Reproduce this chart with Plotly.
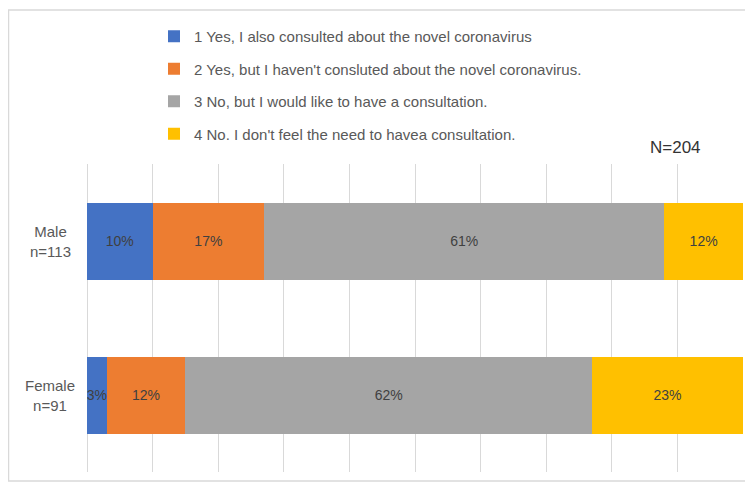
import plotly.graph_objects as go

categories = ["Male<br>n=113", "Female<br>n=91"]
series_names = [
    "1 Yes, I also consulted about the novel coronavirus",
    "2 Yes, but I haven't consluted about the novel coronavirus.",
    "3 No, but I would like to have a consultation.",
    "4 No. I don't feel the need to havea consultation.",
]
s1 = [10, 3]
s2 = [17, 12]
s3 = [61, 62]
s4 = [12, 23]
colors = ["#4472C4", "#ED7D31", "#A5A5A5", "#FFC000"]

# page has an 8px body margin; work in figure pixel coordinates (page - 8)
W, H = 745, 477
L, R, T, B = 79, 10, 156, 13
pw, ph = W - L - R, H - T - B

def px_x(p):
    return (p - L) / pw

def px_y(p):
    return (H - B - p) / ph

fig = go.Figure()
for i, (name, vals) in enumerate(zip(series_names, [s1, s2, s3, s4])):
    fig.add_trace(go.Bar(
        y=categories, x=vals, name=name, orientation="h",
        marker=dict(color=colors[i], line=dict(width=0)),
        text=[f"{v}%" for v in vals], textposition="inside", textangle=0,
        insidetextanchor="middle", constraintext="none",
        textfont=dict(size=14, color="#404040", family="Liberation Sans"),
        legendgroup=f"g{i}", hoverinfo="skip",
    ))

fig.update_layout(
    width=W, height=H, barmode="stack", bargap=0.5,
    margin=dict(l=L, r=R, t=T, b=B),
    paper_bgcolor="white", plot_bgcolor="white",
    font=dict(family="Liberation Sans", color="#595959"),
    uniformtext=dict(minsize=14, mode="show"),
    legend=dict(orientation="v", x=px_x(146), y=px_y(12), xanchor="left", yanchor="top",
                font=dict(size=15, color="#595959"), tracegroupgap=10,
                traceorder="grouped", bgcolor="rgba(0,0,0,0)"),
    showlegend=True,
)
fig.update_xaxes(range=[0, 100], dtick=10, showgrid=True, gridcolor="#D9D9D9", gridwidth=1,
                 zeroline=True, zerolinecolor="#D9D9D9", zerolinewidth=1,
                 showticklabels=False, showline=False, ticks="")
fig.update_yaxes(autorange="reversed", showgrid=False, zeroline=False, showline=False,
                 showticklabels=False, ticks="")

for c in categories:
    fig.add_annotation(text=c, xref="paper", yref="y", x=px_x(42), y=c,
                       xanchor="center", yanchor="middle", align="center", showarrow=False,
                       font=dict(size=15, color="#595959"))

fig.add_annotation(text="N=204", xref="paper", yref="paper", x=px_x(667), y=px_y(139),
                   xanchor="center", yanchor="middle",
                   showarrow=False, font=dict(size=17, color="#333333"))
fig.add_shape(type="rect", xref="paper", yref="paper",
              x0=px_x(0.5), x1=px_x(770), y0=px_y(473), y1=px_y(2),
              line=dict(color="#D9D9D9", width=1.5), layer="below")

fig.write_html("out.html")
